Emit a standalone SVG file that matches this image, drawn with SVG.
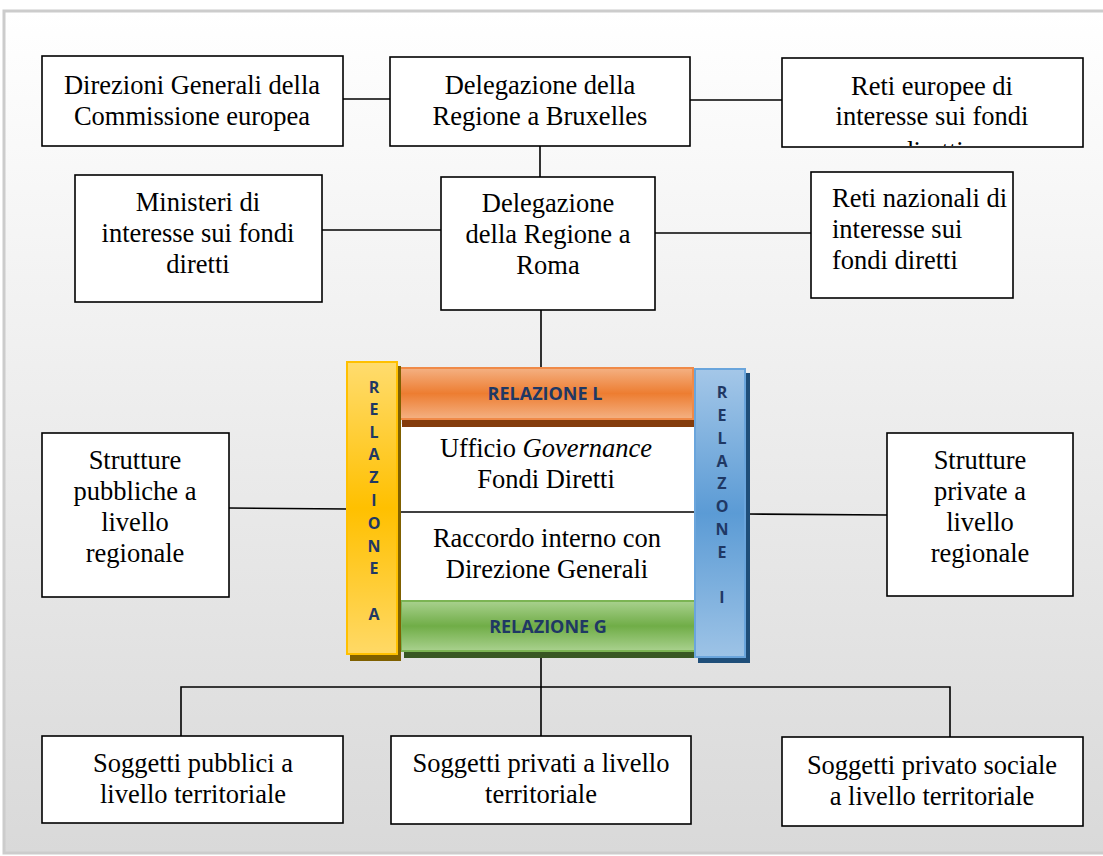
<svg xmlns="http://www.w3.org/2000/svg" width="1103" height="856" viewBox="0 0 1103 856">
<defs>
<linearGradient id="bg" x1="0" y1="0" x2="0" y2="1">
<stop offset="0" stop-color="#ffffff"/>
<stop offset="1" stop-color="#d9d9d9"/>
</linearGradient>
<linearGradient id="gY" x1="0" y1="0" x2="0" y2="1">
<stop offset="0" stop-color="#ffdc6e"/>
<stop offset="0.5" stop-color="#ffc000"/>
<stop offset="1" stop-color="#ffd966"/>
</linearGradient>
<linearGradient id="gB" x1="0" y1="0" x2="0" y2="1">
<stop offset="0" stop-color="#a4c7e8"/>
<stop offset="0.5" stop-color="#5b9bd5"/>
<stop offset="1" stop-color="#9dc3e6"/>
</linearGradient>
<linearGradient id="gO" x1="0" y1="0" x2="0" y2="1">
<stop offset="0" stop-color="#f4b183"/>
<stop offset="0.5" stop-color="#ed7d31"/>
<stop offset="1" stop-color="#f4b183"/>
</linearGradient>
<linearGradient id="gG" x1="0" y1="0" x2="0" y2="1">
<stop offset="0" stop-color="#a9d18e"/>
<stop offset="0.5" stop-color="#70ad47"/>
<stop offset="1" stop-color="#a9d18e"/>
</linearGradient>
<clipPath id="c3"><rect x="783" y="59" width="299" height="87"/></clipPath>
</defs>
<style>
.box{fill:#ffffff;stroke:#000000;stroke-width:1.6}
.t{font-family:"Liberation Serif","Times New Roman",serif;font-size:26.5px;fill:#000000;text-anchor:middle}
.tl{text-anchor:start}
.ln{stroke:#000000;stroke-width:1.6;fill:none}
.rv{font-family:"Open Sans","Liberation Sans",sans-serif;font-weight:bold;font-size:16px;fill:#1f3864;text-anchor:middle}
.rh{font-family:"Open Sans","Liberation Sans",sans-serif;font-weight:bold;font-size:18px;fill:#1f3864;text-anchor:middle}
</style>
<rect x="4" y="11" width="1110" height="842" fill="url(#bg)" stroke="#cccccc" stroke-width="3"/>

<g id="connectors">
<line class="ln" x1="343" y1="99" x2="390" y2="99"/>
<line class="ln" x1="690" y1="100" x2="782" y2="100"/>
<line class="ln" x1="540" y1="146" x2="540" y2="177"/>
<line class="ln" x1="322" y1="230" x2="441" y2="230"/>
<line class="ln" x1="655" y1="233" x2="811" y2="233"/>
<line class="ln" x1="541" y1="310" x2="541" y2="368"/>
<line class="ln" x1="229" y1="508" x2="347" y2="509"/>
<line class="ln" x1="747" y1="514" x2="887" y2="515"/>
<line class="ln" x1="541" y1="658" x2="541" y2="736"/>
<polyline class="ln" points="181,736 181,687 950,687 950,737"/>
</g>

<g id="n-dg">
<rect class="box" x="42" y="56" width="301" height="90"/>
<text class="t" x="192" y="94">Direzioni Generali della</text>
<text class="t" x="192" y="125">Commissione europea</text>
</g>
<g id="n-bruxelles">
<rect class="box" x="390" y="57" width="300" height="89"/>
<text class="t" x="540" y="94">Delegazione della</text>
<text class="t" x="540" y="125">Regione a Bruxelles</text>
</g>
<g id="n-reti-europee">
<rect class="box" x="782" y="58" width="301" height="89"/>
<g clip-path="url(#c3)">
<text class="t" x="932" y="95">Reti europee di</text>
<text class="t" x="932" y="125">interesse sui fondi</text>
<text class="t" x="932" y="160">diretti</text>
</g>
</g>
<g id="n-ministeri">
<rect class="box" x="75" y="175" width="247" height="127"/>
<text class="t" x="198" y="211">Ministeri di</text>
<text class="t" x="198" y="242">interesse sui fondi</text>
<text class="t" x="198" y="273">diretti</text>
</g>
<g id="n-roma">
<rect class="box" x="441" y="177" width="214" height="133"/>
<text class="t" x="548" y="212">Delegazione</text>
<text class="t" x="548" y="243">della Regione a</text>
<text class="t" x="548" y="274">Roma</text>
</g>
<g id="n-reti-nazionali">
<rect class="box" x="811" y="172" width="202" height="126"/>
<text class="t tl" x="832" y="207">Reti nazionali di</text>
<text class="t tl" x="832" y="238">interesse sui</text>
<text class="t tl" x="832" y="269">fondi diretti</text>
</g>

<g id="n-centro">
<rect x="399" y="424" width="296" height="178" fill="#ffffff"/>
<line class="ln" x1="399" y1="512" x2="695" y2="512"/>
<text class="t" x="546" y="457">Ufficio <tspan font-style="italic">Governance</tspan></text>
<text class="t" x="546" y="488">Fondi Diretti</text>
<text class="t" x="547" y="547">Raccordo interno con</text>
<text class="t" x="547" y="578">Direzione Generali</text>
</g>

<g id="n-relazione-l">
<rect x="402" y="373" width="294" height="54" fill="#843c0c"/>
<rect x="399" y="368" width="294" height="51" fill="url(#gO)" stroke="#f08a48" stroke-width="2"/>
<text class="rh" x="545" y="400">RELAZIONE L</text>
</g>
<g id="n-relazione-g">
<rect x="404" y="606" width="292" height="52" fill="#385723"/>
<rect x="401" y="601" width="294" height="50" fill="url(#gG)" stroke="#7bb453" stroke-width="2"/>
<text class="rh" x="548" y="633">RELAZIONE G</text>
</g>
<g id="n-relazione-a">
<rect x="350" y="366" width="51" height="295" fill="#7f6000"/>
<rect x="347" y="362" width="50" height="292" fill="url(#gY)" stroke="#ffc000" stroke-width="2"/>
<text class="rv" x="374" y="393">R</text>
<text class="rv" x="374" y="415">E</text>
<text class="rv" x="374" y="438">L</text>
<text class="rv" x="374" y="460">A</text>
<text class="rv" x="374" y="483">Z</text>
<text class="rv" x="374" y="506">I</text>
<text class="rv" x="374" y="529">O</text>
<text class="rv" x="374" y="552">N</text>
<text class="rv" x="374" y="574">E</text>
<text class="rv" x="374" y="620">A</text>
</g>
<g id="n-relazione-i">
<rect x="698" y="373" width="52" height="290" fill="#1f4e79"/>
<rect x="695" y="369" width="50" height="288" fill="url(#gB)" stroke="#6aa5dc" stroke-width="2"/>
<text class="rv" x="722" y="398">R</text>
<text class="rv" x="722" y="421">E</text>
<text class="rv" x="722" y="444">L</text>
<text class="rv" x="722" y="467">A</text>
<text class="rv" x="722" y="489">Z</text>
<text class="rv" x="722" y="512">O</text>
<text class="rv" x="722" y="535">N</text>
<text class="rv" x="722" y="558">E</text>
<text class="rv" x="722" y="603">I</text>
</g>

<g id="n-strutture-pubbliche">
<rect class="box" x="42" y="433" width="187" height="164"/>
<text class="t" x="135" y="469">Strutture</text>
<text class="t" x="135" y="500">pubbliche a</text>
<text class="t" x="135" y="531">livello</text>
<text class="t" x="135" y="562">regionale</text>
</g>
<g id="n-strutture-private">
<rect class="box" x="887" y="433" width="186" height="163"/>
<text class="t" x="980" y="469">Strutture</text>
<text class="t" x="980" y="500">private a</text>
<text class="t" x="980" y="531">livello</text>
<text class="t" x="980" y="562">regionale</text>
</g>

<g id="n-soggetti-pubblici">
<rect class="box" x="42" y="736" width="301" height="87"/>
<text class="t" x="193" y="772">Soggetti pubblici a</text>
<text class="t" x="193" y="803">livello territoriale</text>
</g>
<g id="n-soggetti-privati">
<rect class="box" x="391" y="736" width="300" height="88"/>
<text class="t" x="541" y="772">Soggetti privati a livello</text>
<text class="t" x="541" y="803">territoriale</text>
</g>
<g id="n-soggetti-sociale">
<rect class="box" x="782" y="737" width="301" height="89"/>
<text class="t" x="932" y="774">Soggetti privato sociale</text>
<text class="t" x="932" y="805">a livello territoriale</text>
</g>
</svg>
